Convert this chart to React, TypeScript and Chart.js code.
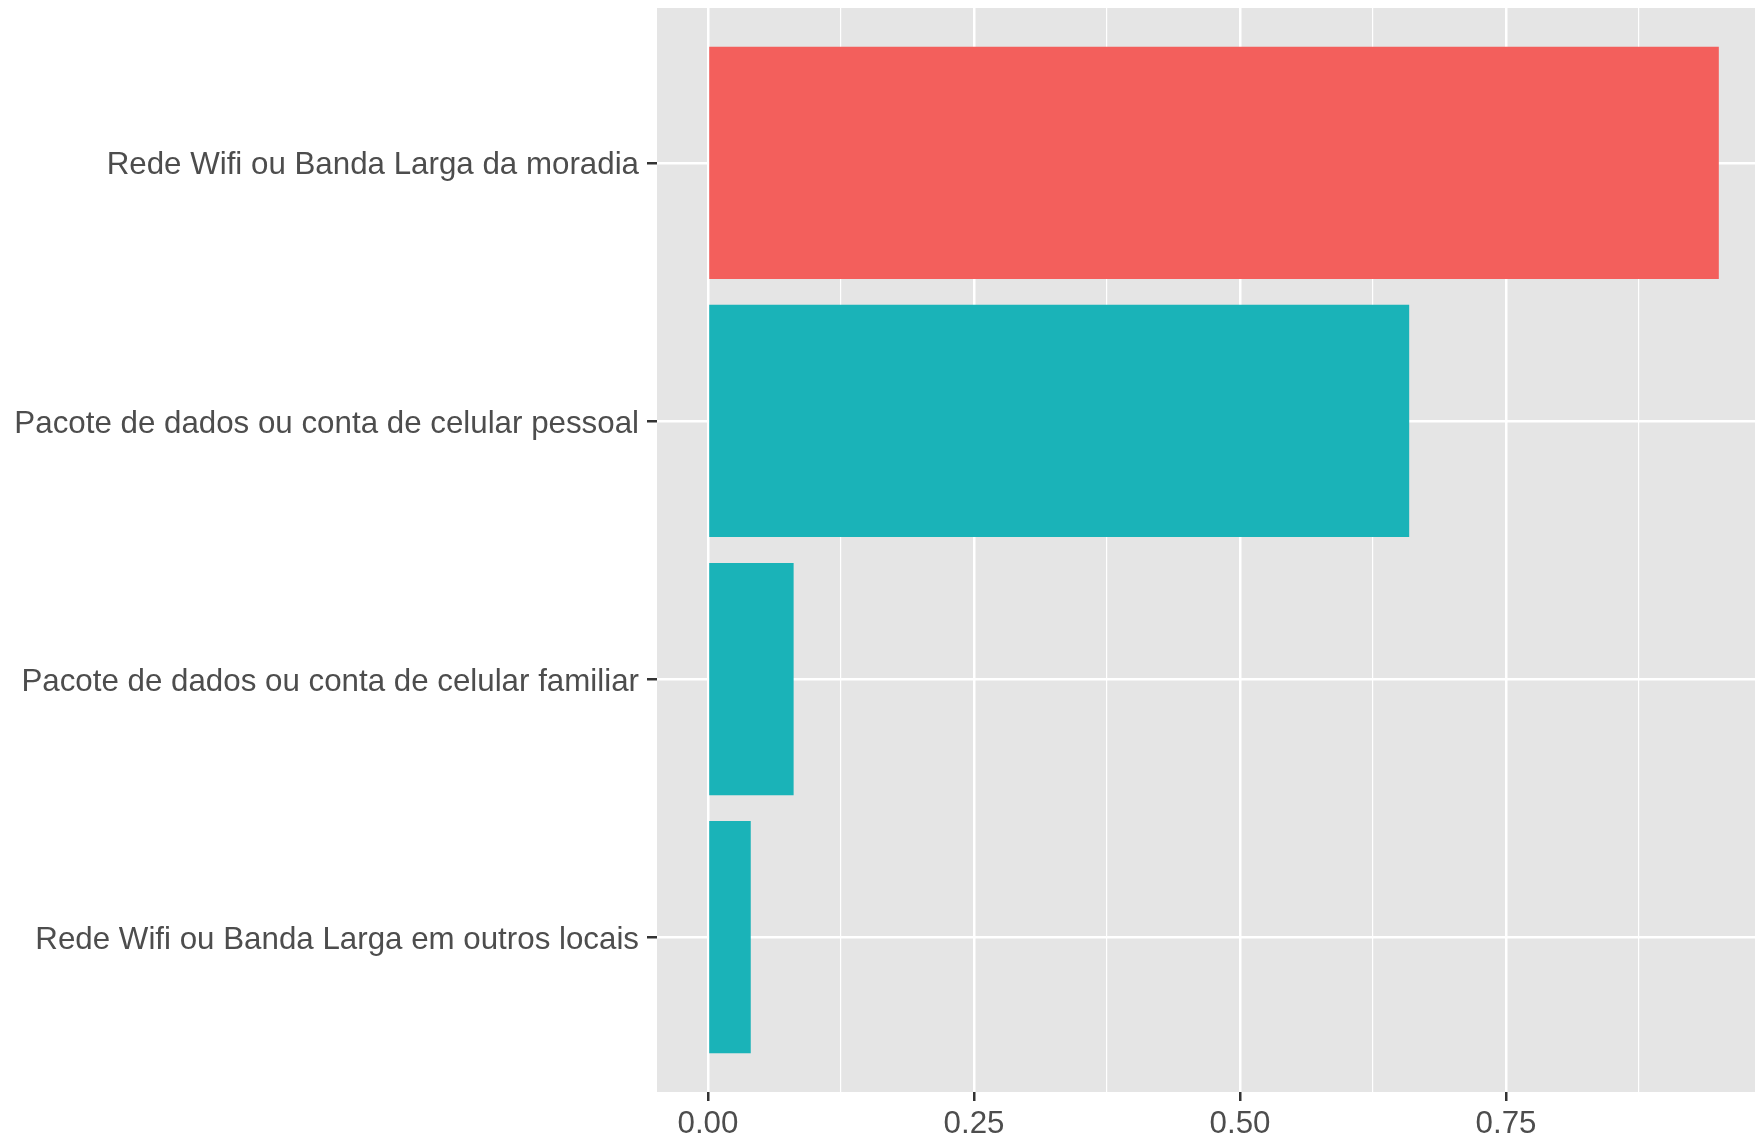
import React, { useEffect, useRef } from "react";
import { Chart, registerables } from "chart.js";

Chart.register(...registerables);

const categories = [
  "Rede Wifi ou Banda Larga da moradia",
  "Pacote de dados ou conta de celular pessoal",
  "Pacote de dados ou conta de celular familiar",
  "Rede Wifi ou Banda Larga em outros locais",
];
const values = [0.95, 0.659, 0.0805, 0.0402];
const barColors = ["#F35F5C", "#1AB3B8", "#1AB3B8", "#1AB3B8"];
const xTickValues = [0, 0.125, 0.25, 0.375, 0.5, 0.625, 0.75, 0.875];
const xTickLabels: Record<string, string> = { "0": "0.00", "0.25": "0.25", "0.5": "0.50", "0.75": "0.75" };

const isMajor = (v: number) => Math.abs(v / 0.25 - Math.round(v / 0.25)) < 1e-6;

const panelBg = {
  id: "panelBg",
  beforeDraw(chart: any) {
    const { ctx, chartArea } = chart;
    ctx.save();
    ctx.fillStyle = "#E5E5E5";
    ctx.fillRect(chartArea.left, chartArea.top, chartArea.right - chartArea.left, chartArea.bottom - chartArea.top);
    ctx.restore();
  },
};

const FONT = { family: "'Liberation Sans', Arial, sans-serif", size: 31.3 };

export default function App() {
  const ref = useRef<HTMLCanvasElement | null>(null);
  useEffect(() => {
    if (!ref.current) return;
    const chart = new Chart(ref.current, {
      type: "bar",
      data: {
        datasets: [
          {
            data: values.map((v, i) => ({ x: v, y: i + 1 })),
            backgroundColor: barColors,
            borderWidth: 0,
            barPercentage: 0.9,
            categoryPercentage: 1,
          },
        ],
      },
      options: {
        indexAxis: "y",
        animation: false,
        responsive: false,
        devicePixelRatio: 1,
        layout: { padding: { top: 8, right: 0, left: 0, bottom: 0 } },
        plugins: { legend: { display: false }, tooltip: { enabled: false } },
        scales: {
          x: {
            type: "linear",
            min: -0.0479,
            max: 0.984,
            offset: false,
            afterBuildTicks: (scale: any) => {
              scale.ticks = xTickValues.map((v) => ({ value: v }));
            },
            afterFit: (scale: any) => {
              scale.height = 49;
              scale.paddingLeft = 0;
              scale.paddingRight = 0;
            },
            border: { display: false },
            grid: {
              offset: false,
              color: "#FFFFFF",
              lineWidth: (c: any) => (c.tick && isMajor(c.tick.value) ? 2.5 : 1.2),
              tickColor: (c: any) => (c.tick && isMajor(c.tick.value) ? "#333333" : "rgba(0,0,0,0)"),
              tickLength: 9,
              tickWidth: 2.5,
            },
            ticks: {
              autoSkip: false,
              maxRotation: 0,
              padding: 5,
              color: "#4D4D4D",
              font: FONT,
              callback: (v: any) => {
                const key = String(Math.round(Number(v) * 1000) / 1000);
                return xTickLabels[key] ?? "";
              },
            },
          },
          y: {
            type: "linear",
            min: 0.4,
            max: 4.6,
            reverse: true,
            offset: false,
            afterBuildTicks: (scale: any) => {
              scale.ticks = categories.map((_, i) => ({ value: i + 1 }));
            },
            afterFit: (scale: any) => {
              scale.width = 657;
              scale.paddingTop = 0;
              scale.paddingBottom = 0;
            },
            border: { display: false },
            grid: {
              offset: false,
              color: "#FFFFFF",
              lineWidth: 2.5,
              tickColor: "#333333",
              tickLength: 10,
              tickWidth: 2.5,
            },
            ticks: {
              autoSkip: false,
              padding: 8,
              labelOffset: 3,
              color: "#4D4D4D",
              font: FONT,
              callback: (v: any) => categories[Math.round(Number(v)) - 1] ?? "",
            },
          },
        },
      },
      plugins: [panelBg],
    });
    return () => chart.destroy();
  }, []);
  return (
    <div style={{ position: "absolute", left: 0, top: 0, width: 1755, height: 1141, background: "#FFFFFF" }}>
      <canvas ref={ref} width={1755} height={1141} style={{ display: "block" }} />
    </div>
  );
}
